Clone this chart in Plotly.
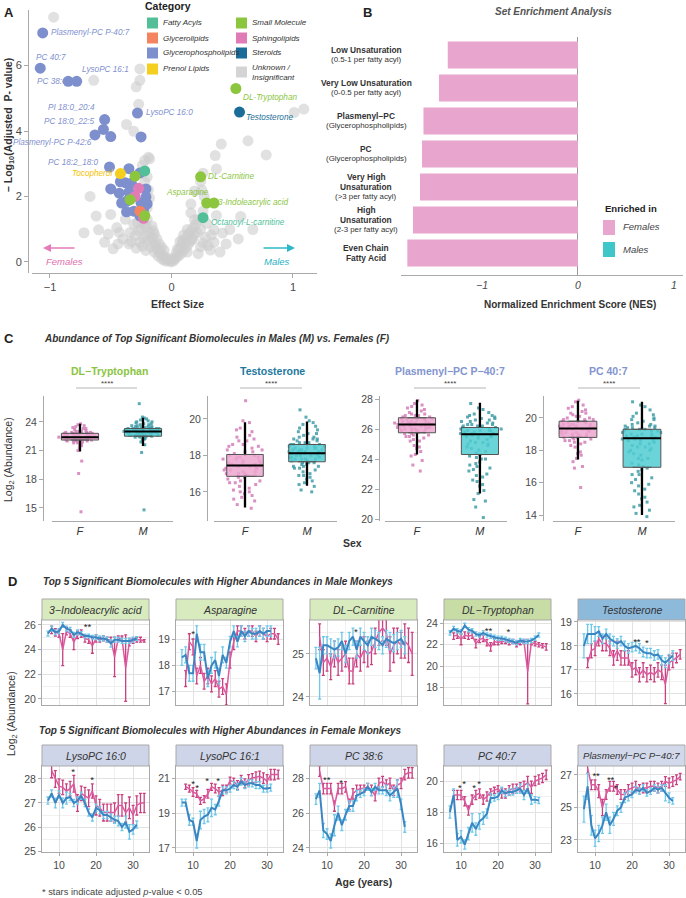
import plotly.graph_objects as go

W, H = 686, 898

# ======================= DATA =======================
# ---- Panel A: volcano (effect size, -log10 adjusted p) ----
a_unknown_pts = [
    (-0.97, 7.48), (-0.64, 5.55), (-0.26, 5.90), (-0.26, 5.55), (-0.29, 5.35), (-0.27, 4.82),
    (-0.37, 4.20), (-0.31, 3.99), (-0.19, 3.20), (-0.18, 3.15), (-0.67, 2.00), (-0.72, 0.89),
    (-0.60, 0.98), (-0.50, 1.45), (-0.43, 0.90), (-0.34, 0.90), (-0.31, 1.15), (-0.30, 0.80),
    (-0.26, 0.60), (-0.22, 3.10), (-0.24, 2.95), (-0.20, 2.60), (-0.22, 2.45), (-0.19, 2.20),
    (-0.18, 1.95), (-0.20, 1.65), (-0.24, 1.25), (-0.22, 1.15), (-0.25, 1.00), (-0.20, 1.05),
    (-0.18, 0.90), (-0.21, 0.80), (-0.16, 0.75), (-0.19, 0.65), (-0.15, 0.60), (-0.13, 0.50),
    (-0.17, 0.45), (-0.12, 0.40), (-0.10, 0.35), (-0.14, 0.30), (-0.09, 0.25), (-0.07, 0.20),
    (-0.11, 0.18), (-0.05, 0.14), (-0.08, 0.10), (-0.03, 0.08), (-0.06, 0.05), (-0.01, 0.03),
    (-0.04, 0.02), (0.00, 0.00), (-0.15, 0.95), (-0.12, 0.70), (-0.10, 0.55), (-0.08, 0.45),
    (-0.06, 0.35), (-0.16, 1.10), (-0.14, 0.85), (-0.20, 1.30), (-0.28, 1.20), (-0.27, 0.95),
    (-0.23, 0.70), (-0.35, 0.55), (-0.40, 0.70), (-0.45, 1.05), (-0.55, 0.60), (-0.48, 0.40),
    (-0.62, 1.40), (-0.38, 1.30), (0.02, 0.04), (0.03, 0.10), (0.05, 0.16), (0.01, 0.12),
    (0.07, 0.22), (0.04, 0.27), (0.09, 0.30), (0.06, 0.38), (0.11, 0.40), (0.08, 0.50),
    (0.13, 0.50), (0.10, 0.60), (0.15, 0.60), (0.12, 0.72), (0.17, 0.70), (0.14, 0.85),
    (0.19, 0.82), (0.16, 0.95), (0.21, 0.90), (0.18, 1.05), (0.13, 0.99), (0.09, 0.67),
    (0.17, 0.67), (0.24, 0.46), (0.32, 0.36), (0.13, 0.30), (0.05, 0.40), (0.20, 1.15),
    (0.22, 1.30), (0.19, 1.29), (0.16, 1.50), (0.16, 1.77), (0.19, 2.17), (0.24, 2.46),
    (0.26, 2.71), (0.37, 2.84), (0.41, 3.60), (0.36, 3.25), (0.63, 3.70), (0.78, 3.27),
    (1.01, 4.57), (1.09, 4.67), (0.29, 1.18), (0.37, 1.42), (0.48, 0.99), (0.57, 1.39),
    (0.67, 0.99), (0.42, 0.88), (0.35, 0.98), (0.24, 1.00), (0.28, 0.75), (0.35, 0.60),
    (0.45, 0.55), (0.55, 0.70), (0.30, 0.50), (0.40, 0.30), (0.22, 0.25), (0.26, 1.55),
    (0.27, 2.00), (0.25, 2.20), (-0.33, 0.62), (-0.29, 0.42), (-0.21, 0.35), (-0.24, 0.48),
    (0.10, 0.82), (0.07, 0.62), (0.26, 0.58), (0.33, 0.82), (-0.44, 0.55), (-0.52, 0.85),
]
a_glycerophospholipids_pts = [
    (-1.06, 7.00), (-1.08, 5.92), (-0.85, 5.52), (-0.78, 5.52), (-0.55, 4.35), (-0.56, 4.05),
    (-0.63, 3.88), (-0.50, 3.83), (-0.28, 4.55), (-0.25, 3.82), (-0.51, 2.90), (-0.26, 2.72),
    (-0.35, 2.85), (-0.42, 2.45), (-0.38, 2.42), (-0.33, 2.40), (-0.50, 2.23), (-0.43, 2.10),
    (-0.35, 2.13), (-0.21, 2.23), (-0.21, 1.98), (-0.41, 1.80), (-0.37, 1.85), (-0.25, 1.80),
    (-0.20, 1.77), (-0.37, 1.53), (-0.31, 1.55), (-0.23, 1.60), (-0.26, 1.41),
]
a_fatty_acyls_pts = [(-0.22, 2.78), (0.26, 1.35)]
a_small_molecule_pts = [(-0.30, 2.62), (-0.34, 1.90), (-0.22, 1.41), (0.53, 5.30), (0.24, 2.60), (0.29, 1.80), (0.35, 1.80)]
a_glycerolipids_pts = [(-0.26, 1.55)]
a_sphingolipids_pts = [(-0.27, 2.25), (-0.30, 2.00), (-0.23, 1.33)]
a_steroids_pts = [(0.56, 4.58)]
a_prenol_pts = [(-0.42, 2.70)]

a_categories = ["Fatty Acyls", "Small Molecule", "Glycerolipids", "Sphingolipids",
                "Glycerophospholipids", "Steroids", "Prenol Lipids", "Unknown /<br>Insignificant"]

# ---- Panel B: set enrichment ----
b_sets = ["Low Unsaturation|(0.5-1 per fatty acyl)",
          "Very Low Unsaturation|(0-0.5 per fatty acyl)",
          "Plasmenyl−PC|(Glycerophospholipids)",
          "PC|(Glycerophospholipids)",
          "Very High;Unsaturation|(&gt;3 per fatty acyl)",
          "High;Unsaturation|(2-3 per fatty acyl)",
          "Even Chain;Fatty Acid|"]
b_nes = [-1.357, -1.448, -1.61, -1.625, -1.646, -1.719, -1.778]

# ---- Panel C: abundance by sex ----
c_names = ["DL−Tryptophan", "Testosterone", "Plasmenyl−PC P−40:7", "PC 40:7"]
c_f_q1 = [22.1, 16.85, 25.75, 18.8]
c_f_med = [22.4, 17.45, 26.3, 19.35]
c_f_q3 = [22.8, 18.05, 26.75, 19.8]
c_f_lo = [20.9, 15.2, 24.3, 17.5]
c_f_hi = [23.8, 19.75, 27.95, 21.0]
c_m_q1 = [22.5, 17.65, 24.3, 16.95]
c_m_med = [23.0, 18.12, 25.65, 18.75]
c_m_q3 = [23.3, 18.6, 26.1, 19.3]
c_m_lo = [21.6, 16.4, 21.7, 14.0]
c_m_hi = [24.3, 19.8, 27.75, 21.0]
c_trp_f = [22.4, 22.1, 22.8, 23.0, 22.5, 21.9, 22.3, 22.7, 23.4, 22.2, 21.7, 22.6, 22.9, 23.2, 22.0, 22.4,
           21.3, 22.8, 23.6, 22.5, 22.1, 22.3, 23.8, 21.0, 22.6, 22.9, 22.2, 22.4, 22.7, 21.8, 23.1, 22.5,
           22.0, 22.3, 19.9, 18.6, 14.6, 22.6, 22.4, 23.3, 21.5, 22.8, 22.1, 22.5, 23.0,
           22.3, 22.6, 22.0, 22.9, 23.3, 22.4, 21.8, 22.7, 22.2, 23.5, 22.5, 22.1, 22.8, 22.4, 21.6, 23.0,
           22.6, 22.3, 22.9, 22.2, 23.7, 22.5, 22.0, 22.8, 22.4]
c_trp_m = [23.0, 22.6, 23.2, 23.5, 22.8, 23.1, 22.4, 23.7, 22.9, 23.3, 22.2, 24.0, 23.0, 22.7, 23.4, 21.6,
           22.9, 23.6, 24.3, 22.5, 23.1, 23.8, 22.8, 23.2, 22.1, 23.0, 24.5, 22.6, 23.3, 22.9, 20.8, 25.9,
           14.8, 23.1, 22.7, 23.5, 24.1, 22.3, 23.0, 23.4, 22.8, 23.9, 21.9, 23.2, 22.6, 23.0, 22.5, 23.3,
           24.2, 22.9, 23.1, 22.8, 23.4, 22.6, 23.0, 23.6, 22.4, 23.2, 22.9, 24.4, 23.3, 22.7, 23.0, 23.5,
           22.2, 23.8, 22.9, 23.1, 22.6, 23.4, 24.0, 22.8, 23.2, 23.0, 22.5, 23.3, 23.7, 22.9, 23.1, 22.7]
c_tst_f = [17.4, 16.8, 18.1, 17.0, 19.5, 16.2, 17.8, 18.3, 15.5, 17.2, 16.9, 18.8, 17.6, 16.5, 19.8, 17.9,
           15.9, 17.3, 18.5, 16.0, 17.7, 19.1, 16.7, 18.0, 17.5, 15.3, 21.0, 17.1, 16.4, 18.6, 17.0, 19.3,
           16.1, 17.8, 15.7, 18.2, 17.4, 16.6, 19.9, 17.6, 15.1, 18.4, 16.9, 17.3, 18.9,
           17.0, 18.2, 16.5, 17.6, 19.0, 17.3, 16.3, 18.6, 17.9, 15.8, 17.5, 18.0, 16.8, 19.4, 17.2, 16.0,
           18.3, 17.7, 16.6, 18.8, 17.1, 15.6, 17.9, 18.5, 16.9]
c_tst_m = [18.1, 17.6, 18.6, 17.9, 18.4, 19.2, 17.2, 18.8, 16.9, 18.0, 19.5, 17.7, 18.3, 16.5, 18.9, 17.4,
           19.8, 18.2, 16.8, 18.5, 17.8, 20.5, 18.1, 17.3, 19.0, 16.1, 18.7, 17.5, 18.3, 19.4, 17.0, 18.0,
           18.6, 16.4, 19.1, 17.9, 18.2, 20.1, 17.6, 18.4, 16.0, 18.9, 17.8, 18.5, 19.6, 17.4, 18.1, 18.7,
           16.7, 18.3, 18.2, 17.8, 18.9, 17.5, 18.4, 19.3, 17.1, 18.6, 18.0, 16.6, 19.7, 17.9, 18.3, 17.4,
           18.8, 16.9, 18.1, 19.0, 17.7, 18.5, 16.3, 18.2, 19.2, 17.6, 18.0, 18.7, 17.3, 18.4, 19.9, 17.8]
c_plm_f = [26.3, 25.8, 26.7, 26.1, 27.0, 25.5, 26.5, 26.9, 25.9, 26.4, 27.4, 25.2, 26.2, 26.6, 24.8, 26.0,
           27.2, 25.7, 26.3, 26.8, 24.3, 27.9, 26.1, 25.6, 26.5, 23.2, 26.4, 27.6, 25.9, 26.2, 24.5, 26.7,
           26.0, 25.4, 27.1, 26.3, 23.6, 26.6, 25.8, 26.9, 26.2, 24.2, 27.5, 26.4, 25.7,
           26.1, 25.6, 26.8, 26.4, 25.3, 27.3, 26.0, 25.9, 26.6, 24.7, 26.2, 27.0, 25.5, 26.5, 26.3, 24.9,
           27.7, 26.0, 25.8, 26.7, 23.9, 26.4, 26.1, 25.2, 26.9]
c_plm_m = [25.7, 24.3, 26.1, 25.2, 26.5, 23.5, 25.9, 26.8, 24.0, 25.5, 22.8, 26.3, 25.0, 26.0, 23.2, 27.0,
           25.8, 24.6, 26.2, 22.2, 25.6, 26.7, 24.9, 23.8, 26.4, 21.7, 25.3, 26.9, 24.4, 27.4, 22.5, 25.9,
           26.0, 23.0, 25.7, 24.1, 26.6, 20.8, 25.1, 27.7, 23.6, 26.2, 21.3, 25.5, 24.7, 26.8, 22.9, 25.9,
           20.1, 26.3, 25.8, 24.8, 26.4, 23.3, 25.9, 26.6, 22.6, 25.4, 26.1, 24.2, 26.9, 23.7, 25.6, 26.3,
           21.9, 25.0, 26.7, 24.5, 27.1, 22.3, 25.7, 26.0, 23.4, 26.5, 24.0, 25.5, 27.3, 21.2, 26.2, 25.1]
c_pc_f = [19.4, 18.9, 19.8, 19.1, 20.3, 18.5, 19.6, 20.0, 18.8, 19.3, 20.7, 17.9, 19.5, 19.9, 18.3, 19.2,
          21.0, 18.7, 19.4, 20.2, 17.5, 19.7, 19.0, 18.6, 20.5, 17.0, 19.3, 19.8, 15.7, 19.5, 18.9, 20.1,
          19.2, 17.8, 19.6, 21.1, 18.4, 19.3, 19.9, 16.9, 19.1, 18.8, 20.4, 19.5, 19.0,
          19.5, 19.0, 20.0, 18.7, 19.6, 20.6, 18.9, 19.3, 17.7, 19.8, 19.2, 20.3, 18.5, 19.7, 19.1, 17.3,
          20.1, 19.4, 18.6, 20.8, 19.0, 18.2, 19.6, 19.9, 18.8]
c_pc_m = [18.8, 17.0, 19.3, 18.2, 19.8, 16.2, 19.0, 20.2, 15.5, 18.5, 19.5, 17.4, 18.9, 14.8, 19.2, 20.8,
          16.8, 18.6, 19.6, 15.0, 18.0, 19.4, 17.7, 21.0, 18.9, 14.3, 19.1, 16.5, 19.7, 18.4, 20.3, 15.8,
          18.7, 19.3, 17.1, 13.9, 19.0, 18.3, 16.0, 19.9, 18.1, 14.6, 19.5, 17.5, 18.8, 20.0, 15.3, 19.2,
          16.7, 18.6, 19.0, 17.8, 19.4, 15.9, 18.6, 19.9, 17.2, 14.5, 19.2, 18.4, 20.5, 16.3, 19.5, 18.0,
          15.6, 19.1, 17.5, 20.7, 18.9, 14.1, 19.3, 16.9, 18.7, 20.1, 15.1, 19.6, 17.9, 18.2, 16.5, 19.4]

# ---- Panel D: abundance over age ----
age_f = [8, 9, 10, 11, 12, 13, 14, 15, 16, 17, 18, 19, 20, 21, 22, 23, 24, 25, 26, 27, 28, 29, 30, 31, 32, 33]
age_m = [7, 8, 9, 10, 11, 12, 13, 14, 15, 16, 17, 18, 19, 20, 21, 22, 23, 24, 25, 26, 27, 28, 29, 30, 31]

ind_f = [25.6, 25.4, 25.3, 24.0, 25.5, 25.3, 24.6, 25.2, 25.3, 24.9, 24.8, 24.3, 24.9, 24.8, 24.9, 24.8, 24.8, 23.4, 24.9, 24.9, 22.5, 24.6, 24.7, 24.8, 24.8, 24.7]
ind_f_err = [0.3, 0.3, 0.3, 1.3, 0.3, 0.3, 0.6, 0.3, 0.3, 0.3, 0.3, 0.6, 0.3, 0.2, 0.2, 0.2, 0.2, 1.6, 0.2, 0.2, 2.7, 0.3, 0.2, 0.2, 0.2, 0.1]
ind_m = [25.3, 25.7, 25.4, 25.5, 26.0, 25.7, 25.6, 25.2, 25.4, 25.3, 25.1, 25.1, 25.0, 25.0, 24.9, 24.9, 24.8, 24.5, 24.8, 24.8, 24.7, 24.7, 24.7, 24.8, 24.9]
ind_m_err = [0.2, 0.2, 0.2, 0.2, 0.2, 0.2, 0.2, 0.2, 0.2, 0.15, 0.15, 0.15, 0.15, 0.2, 0.2, 0.2, 0.2, 0.3, 0.2, 0.2, 0.2, 0.2, 0.2, 0.2, 0.15]

asn_f = [17.5, 18.9, 18.7, 17.6, 18.0, 17.4, 17.6, 17.3, 17.5, 17.1, 17.2, 16.9, 18.2, 18.9, 19.3, 19.3, 19.2, 19.3, 19.3, 19.1, 19.3, 19.2, 19.1, 19.2, 19.2, 19.0]
asn_f_err = [0.3, 0.3, 0.3, 0.3, 0.3, 0.3, 0.3, 0.3, 0.3, 0.3, 0.3, 0.4, 0.3, 0.3, 0.2, 0.2, 0.2, 0.2, 0.2, 0.2, 0.2, 0.2, 0.2, 0.2, 0.2, 0.2]
asn_m = [18.3, 18.4, 17.7, 17.7, 19.2, 18.5, 18.5, 17.5, 18.0, 18.2, 17.6, 18.4, 18.1, 18.9, 19.3, 18.9, 19.3, 19.1, 19.3, 19.2, 19.2, 19.3, 19.2, 19.3, 19.3]
asn_m_err = [0.3, 0.3, 0.3, 0.3, 0.3, 0.3, 0.3, 0.3, 0.3, 0.3, 0.3, 0.3, 0.2, 0.2, 0.2, 0.2, 0.2, 0.2, 0.2, 0.2, 0.2, 0.2, 0.2, 0.2, 0.2]

car_f = [25.4, 24.8, 24.9, 24.7, 25.0, 24.8, 24.9, 25.0, 24.6, 24.6, 25.0, 24.9, 25.1, 25.0, 25.05, 25.3, 25.5, 25.6, 25.5, 25.0, 25.2, 25.3, 25.2, 25.3, 25.2, 25.0]
car_f_err = [0.3, 0.3, 0.3, 0.3, 0.3, 0.3, 0.3, 0.3, 0.3, 0.3, 0.3, 0.3, 0.3, 0.3, 0.3, 0.3, 0.3, 0.3, 0.3, 0.4, 0.4, 0.3, 0.3, 0.4, 0.4, 0.5]
car_m = [24.9, 24.55, 25.2, 25.2, 25.15, 25.1, 25.15, 25.3, 25.0, 25.3, 25.4, 25.1, 25.4, 25.3, 25.2, 25.4, 25.35, 25.3, 25.2, 25.35, 25.3, 25.25, 25.3, 25.35, 25.2]
car_m_err = [0.25, 0.6, 0.2, 0.2, 0.2, 0.2, 0.2, 0.2, 0.2, 0.2, 0.2, 0.2, 0.2, 0.2, 0.2, 0.2, 0.2, 0.2, 0.2, 0.2, 0.2, 0.2, 0.2, 0.2, 0.2]

trp_f = [22.8, 22.9, 22.5, 22.9, 22.8, 22.9, 22.1, 22.5, 22.6, 22.2, 21.8, 22.3, 22.2, 22.3, 22.3, 22.2, 22.3, 22.0, 22.2, 22.3, 19.5, 22.2, 22.1, 22.0, 21.9, 21.8]
trp_f_err = [0.3, 0.3, 0.5, 0.3, 0.3, 0.3, 0.4, 0.3, 0.3, 0.3, 0.4, 0.3, 0.2, 0.2, 0.2, 0.2, 0.2, 0.2, 0.2, 0.2, 3.0, 0.2, 0.2, 0.2, 0.2, 0.3]
trp_m = [23.1, 23.5, 23.3, 23.2, 23.8, 23.4, 23.3, 23.0, 22.9, 23.1, 22.9, 22.8, 22.7, 22.6, 22.6, 22.5, 22.4, 22.3, 22.2, 22.4, 22.3, 22.3, 22.4, 22.6, 22.9]
trp_m_err = [0.2, 0.2, 0.2, 0.2, 0.2, 0.2, 0.2, 0.2, 0.2, 0.2, 0.2, 0.2, 0.2, 0.2, 0.2, 0.2, 0.2, 0.2, 0.2, 0.2, 0.2, 0.2, 0.2, 0.2, 0.2]

tst_f = [17.3, 17.8, 17.9, 18.3, 18.1, 18.1, 17.9, 17.5, 17.8, 17.5, 17.5, 17.5, 17.0, 17.1, 16.8, 17.0, 16.8, 16.9, 16.8, 17.0, 16.9, 16.4, 17.3, 17.4, 17.5, 17.65]
tst_f_err = [0.2, 0.3, 0.3, 0.3, 0.3, 0.3, 0.3, 0.3, 0.4, 0.3, 0.3, 0.3, 0.3, 0.3, 0.3, 0.3, 0.3, 0.3, 0.3, 0.3, 0.3, 0.8, 0.3, 0.3, 0.2, 0.2]
tst_m = [18.0, 18.5, 18.5, 18.5, 18.6, 18.3, 18.5, 18.3, 18.2, 18.1, 18.2, 18.0, 17.9, 17.95, 18.0, 17.9, 17.75, 17.7, 17.7, 17.6, 17.65, 17.4, 17.3, 17.45, 17.6]
tst_m_err = [0.5, 0.4, 0.4, 0.3, 0.2, 0.2, 0.2, 0.2, 0.2, 0.2, 0.2, 0.2, 0.2, 0.2, 0.2, 0.2, 0.2, 0.2, 0.2, 0.2, 0.2, 0.2, 0.2, 0.2, 0.2]

lpc160_f = [28.35, 28.0, 27.7, 27.65, 27.5, 27.6, 27.8, 27.0, 27.4, 27.3, 27.2, 27.5, 26.9, 26.8, 26.6, 26.6, 26.6, 26.6, 26.9, 26.9, 26.6, 26.8, 26.5, 26.9, 27.0, 27.0]
lpc160_f_err = [0.3, 0.35, 0.3, 0.3, 0.3, 0.3, 0.35, 0.35, 0.3, 0.35, 0.35, 0.3, 0.4, 0.35, 0.35, 0.35, 0.35, 0.4, 0.45, 0.45, 0.4, 0.45, 0.4, 0.4, 0.4, 0.4]
lpc160_m = [27.1, 27.4, 27.0, 27.35, 27.0, 27.2, 27.25, 27.0, 27.1, 27.3, 27.0, 26.6, 26.4, 26.8, 26.7, 26.5, 26.5, 26.4, 26.3, 26.25, 26.0, 26.2, 25.8, 25.9, 26.1]
lpc160_m_err = [0.15, 0.15, 0.2, 0.15, 0.2, 0.25, 0.15, 0.15, 0.15, 0.15, 0.15, 0.15, 0.15, 0.15, 0.15, 0.15, 0.15, 0.15, 0.15, 0.2, 0.15, 0.25, 0.3, 0.2, 0.15]

lpc161_f = [20.5, 20.4, 20.2, 20.1, 19.7, 19.8, 20.1, 20.5, 20.4, 20.2, 20.3, 20.4, 20.85, 20.8, 20.6, 20.9, 20.7, 20.9, 21.0, 21.05, 21.1, 21.0, 20.8, 21.2, 21.2, 21.2]
lpc161_f_err = [0.15, 0.2, 0.25, 0.2, 0.2, 0.2, 0.25, 0.2, 0.25, 0.25, 0.3, 0.2, 0.2, 0.2, 0.25, 0.25, 0.25, 0.3, 0.25, 0.3, 0.3, 0.3, 0.4, 0.3, 0.3, 0.25]
lpc161_m = [19.6, 19.6, 18.6, 18.5, 17.4, 18.6, 18.8, 18.9, 19.3, 19.2, 19.7, 20.3, 20.3, 20.4, 20.6, 20.5, 20.8, 20.6, 20.7, 20.7, 20.6, 20.6, 20.4, 20.4, 20.45]
lpc161_m_err = [0.2, 0.2, 0.3, 0.2, 0.4, 0.5, 0.4, 0.4, 0.5, 0.3, 0.3, 0.2, 0.2, 0.2, 0.2, 0.2, 0.2, 0.2, 0.2, 0.2, 0.2, 0.2, 0.2, 0.2, 0.2]

pc386_f = [28.4, 27.4, 27.4, 27.4, 26.4, 27.4, 27.4, 27.5, 26.5, 27.1, 27.3, 27.4, 27.4, 27.5, 27.3, 27.0, 27.7, 27.8, 27.6, 27.7, 27.3, 27.6, 27.7, 28.2, 28.3, 28.3]
pc386_f_err = [0.3, 0.3, 0.3, 0.3, 0.3, 0.3, 0.3, 0.3, 0.3, 0.3, 0.3, 0.2, 0.2, 0.2, 0.3, 0.3, 0.3, 0.3, 0.3, 0.3, 0.3, 0.3, 0.3, 0.3, 0.3, 0.3]
pc386_m = [26.8, 27.3, 25.0, 24.8, 24.4, 25.3, 26.0, 25.3, 25.9, 26.4, 26.4, 27.0, 27.1, 27.2, 27.5, 27.2, 27.5, 27.3, 27.3, 27.3, 27.0, 27.2, 27.4, 26.5, 25.2]
pc386_m_err = [0.3, 0.4, 0.4, 0.3, 0.4, 0.6, 0.4, 0.3, 0.3, 0.3, 0.3, 0.3, 0.2, 0.2, 0.2, 0.2, 0.2, 0.2, 0.2, 0.3, 0.3, 0.3, 0.5, 0.3, 0.3]

pc407_f = [19.1, 19.1, 19.1, 18.7, 18.1, 18.8, 19.1, 19.2, 18.8, 19.0, 19.3, 19.4, 19.5, 19.2, 19.2, 19.4, 19.5, 19.5, 19.6, 19.7, 19.9, 19.6, 20.0, 20.1, 20.2, 20.4]
pc407_f_err = [0.3, 0.3, 0.3, 0.3, 0.3, 0.3, 0.3, 0.3, 0.3, 0.3, 0.2, 0.2, 0.2, 0.3, 0.3, 0.3, 0.3, 0.3, 0.3, 0.3, 0.4, 0.4, 0.3, 0.3, 0.3, 0.3]
pc407_m = [18.0, 19.1, 16.2, 16.4, 15.9, 16.6, 17.3, 16.9, 17.4, 17.6, 17.9, 18.9, 18.9, 19.0, 19.4, 19.2, 19.3, 19.3, 19.4, 19.5, 19.1, 19.5, 18.8, 18.8, 18.75]
pc407_m_err = [0.4, 0.4, 0.4, 0.4, 0.3, 0.4, 0.6, 0.4, 0.5, 0.4, 0.3, 0.3, 0.2, 0.2, 0.2, 0.2, 0.2, 0.2, 0.2, 0.3, 0.3, 0.3, 0.3, 0.2, 0.2]

plm_f = [27.4, 26.4, 26.4, 26.0, 25.0, 25.8, 26.3, 26.3, 26.1, 25.8, 25.8, 26.1, 26.2, 26.3, 26.1, 26.2, 26.2, 26.3, 26.3, 26.2, 26.3, 26.6, 26.5, 26.6, 26.7, 26.9]
plm_f_err = [0.3, 0.3, 0.3, 0.4, 0.5, 0.3, 0.3, 0.3, 0.3, 0.3, 0.3, 0.3, 0.3, 0.3, 0.3, 0.3, 0.3, 0.3, 0.3, 0.3, 0.3, 0.3, 0.3, 0.3, 0.3, 0.2]
plm_m = [24.9, 26.3, 23.9, 23.1, 23.4, 23.9, 24.7, 23.9, 24.3, 24.8, 25.0, 25.6, 25.7, 25.8, 26.1, 26.0, 26.2, 25.9, 26.0, 26.2, 26.1, 26.2, 25.9, 25.6, 25.4]
plm_m_err = [0.8, 0.8, 0.6, 0.5, 0.5, 0.5, 0.5, 0.5, 0.4, 0.3, 0.3, 0.3, 0.3, 0.2, 0.2, 0.2, 0.2, 0.2, 0.2, 0.2, 0.2, 0.2, 0.5, 0.3, 0.2]

# significance stars (age, value, label)
ind_stars = [(17.7, 25.75, "**")]
asn_stars = [(10.0, 19.15, "*")]
car_stars = [(17.8, 25.5, "*")]
trp_stars = [(17.4, 23.25, "**"), (22.8, 23.1, "*")]
tst_stars = [(21.3, 18.15, "**"), (24.0, 18.1, "*")]
lpc160_stars = [(13.8, 28.25, "*"), (18.9, 27.95, "*")]
lpc161_stars = [(10.0, 20.6, "*"), (11.1, 20.4, "*"), (13.8, 20.8, "*"), (16.8, 20.8, "*")]
pc386_stars = [(9.9, 27.85, "**"), (13.8, 27.7, "*")]
pc407_stars = [(9.7, 19.5, "*"), (10.8, 19.75, "*"), (13.5, 19.5, "*"), (14.9, 19.8, "*")]
plm_stars = [(10.3, 26.9, "**"), (14.2, 26.65, "**"), (15.6, 26.15, "*")]

# ======================= STYLE / HELPERS =======================
FONT = "Liberation Sans, Arial, sans-serif"
TXT = "#3a3a3a"
TICKC = "#4a4a4a"
AXL = "#a9a9a9"


def PX(x):
    return x / W


def PY(y):
    return 1 - y / H


def aid(i):
    s = "" if i == 1 else str(i)
    return "x" + s, "y" + s


fig = go.Figure()
ann = []
shapes = []
axes = {}


def T(x, y, text, size=10.5, color=TXT, bold=False, italic=False, xa="center", ya="middle",
      angle=0, xref="paper", yref="paper", align="center"):
    if italic:
        text = "<i>" + text + "</i>"
    if bold:
        text = "<b>" + text + "</b>"
    ann.append(dict(x=PX(x) if xref == "paper" else x, y=PY(y) if yref == "paper" else y,
                    xref=xref, yref=yref, text=text, showarrow=False, align=align,
                    font=dict(family=FONT, size=size, color=color),
                    xanchor=xa, yanchor=ya, textangle=angle))


def rect(x0, y0, x1, y1, fill, line=None, lw=0):
    shapes.append(dict(type="rect", xref="paper", yref="paper", x0=PX(x0), x1=PX(x1),
                       y0=PY(y1), y1=PY(y0), fillcolor=fill,
                       line=dict(color=line if line else fill, width=lw), layer="above"))


def set_axes(i, xdom, ydom, xopts, yopts):
    xs, ys = aid(i)
    s = xs[1:]
    xd = dict(domain=[PX(xdom[0]), PX(xdom[1])], anchor=ys)
    xd.update(xopts)
    yd = dict(domain=[PY(ydom[1]), PY(ydom[0])], anchor=xs)
    yd.update(yopts)
    axes["xaxis" + s] = xd
    axes["yaxis" + s] = yd


tickf = dict(family=FONT, size=10.5, color=TICKC)

# ======================= PANEL A =======================
cat_colors = {"fa": "#52BF98", "sm": "#8CC63F", "gl": "#F4845F", "sp": "#E07BB6",
              "gp": "#7E8FCD", "st": "#1A6D98", "pr": "#F5CF1E", "un": "#D4D4D4"}
xs, ys = aid(1)
fig.add_trace(go.Scatter(x=[p[0] for p in a_unknown_pts], y=[p[1] for p in a_unknown_pts], mode="markers",
                         marker=dict(size=11, color="rgba(205,205,205,0.6)", line=dict(width=0)),
                         xaxis=xs, yaxis=ys, hoverinfo="skip"))
for pts, key in [(a_glycerophospholipids_pts, "gp"), (a_prenol_pts, "pr"), (a_sphingolipids_pts, "sp"),
                 (a_glycerolipids_pts, "gl"), (a_small_molecule_pts, "sm"), (a_fatty_acyls_pts, "fa"),
                 (a_steroids_pts, "st")]:
    fig.add_trace(go.Scatter(x=[p[0] for p in pts], y=[p[1] for p in pts], mode="markers",
                             marker=dict(size=11, color=cat_colors[key], line=dict(width=0)),
                             xaxis=xs, yaxis=ys, hoverinfo="skip"))

set_axes(1, (32, 317), (10, 273),
         dict(range=[-1.148, 1.198], tickvals=[-1, 0, 1], ticktext=["−1", "0", "1"], showline=True,
              linecolor=AXL, ticks="outside", ticklen=4, tickcolor=AXL, showgrid=False, zeroline=False,
              tickfont=dict(family=FONT, size=11, color=TICKC)),
         dict(range=[-0.34, 7.7], tickvals=[0, 2, 4, 6], showline=True, linecolor=AXL, ticks="outside",
              ticklen=4, tickcolor=AXL, showgrid=False, zeroline=False,
              tickfont=dict(family=FONT, size=11, color=TICKC), anchor="free", position=PX(28)))

BLUE_L = "#7F91D0"
GREEN_L = "#8CC63F"
a_labels = [
    ("Plasmenyl-PC P-40:7", -1.004, 7.0, BLUE_L, "left"),
    ("PC 40:7", -0.988, 6.24, BLUE_L, "center"),
    ("LysoPC 16:1", -0.757, 5.87, BLUE_L, "left"),
    ("PC 38:6", -0.983, 5.5, BLUE_L, "center"),
    ("PI 18:0_20:4", -0.609, 4.71, BLUE_L, "right"),
    ("PC 18:0_22:5", -0.617, 4.28, BLUE_L, "right"),
    ("Plasmenyl-PC P-42:6", -0.634, 3.64, BLUE_L, "right"),
    ("PC 18:2_18:0", -0.584, 3.03, BLUE_L, "right"),
    ("Tocopherol", -0.477, 2.69, "#F2C200", "right"),
    ("LysoPC 16:0", -0.222, 4.56, BLUE_L, "left"),
    ("DL-Tryptophan", 0.576, 5.02, GREEN_L, "left"),
    ("Testosterone", 0.593, 4.40, "#1B6E97", "left"),
    ("DL-Carnitine", 0.288, 2.60, GREEN_L, "left"),
    ("Asparagine", 0.329, 2.11, GREEN_L, "right"),
    ("3-Indoleacrylic acid", 0.370, 1.83, GREEN_L, "left"),
    ("Octanoyl-L-carnitine", 0.305, 1.19, "#4FBF9A", "left"),
]
for txt, lx, ly, col, anc in a_labels:
    T(lx, ly, txt, 8.2, col, italic=True, xa=anc, xref=xs, yref=ys)

# legend (Category)
T(168, 6, "Category", 10.5, "#222", bold=True)
leg_rows = [(23, 0), (38, 2), (53, 4), (69, 6)]
leg_keys = ["fa", "sm", "gl", "sp", "gp", "st", "pr", "un"]
for ry, k in leg_rows:
    for col, (sx, tx) in enumerate([(147, 161), (236, 250)]):
        idx = k + col
        cy = ry if idx != 7 else 72
        rect(sx, cy - 5.5, sx + 11, cy + 5.5, cat_colors[leg_keys[idx]])
        T(tx, cy, a_categories[idx], 8, "#333", italic=True, xa="left", align="left")

# arrows
ann.append(dict(x=PX(43), y=PY(248), xref="paper", yref="paper", ax=33, ay=0, text="",
                showarrow=True, arrowhead=2, arrowsize=1, arrowwidth=1.6, arrowcolor="#E57BB9"))
ann.append(dict(x=PX(295), y=PY(248), xref="paper", yref="paper", ax=-33, ay=0, text="",
                showarrow=True, arrowhead=2, arrowsize=1, arrowwidth=1.6, arrowcolor="#2CB8C6"))
T(64, 262, "Females", 9.5, "#E070B0", italic=True)
T(277, 262, "Males", 9.5, "#27B3C4", italic=True)
T(177, 304, "Effect Size", 10.5, "#333", bold=True)
T(9, 125, "– Log<sub>10</sub>(Adjusted  P- value)", 10.5, "#333", bold=True, angle=-90)
T(9, 13, "A", 13, "#222", bold=True)

# ======================= PANEL B =======================
xs, ys = aid(2)
b_keys = [s for s in b_sets]
fig.add_trace(go.Bar(x=b_nes, y=b_keys, orientation="h", marker=dict(color="#E8A6CE", line=dict(width=0)),
                     xaxis=xs, yaxis=ys, hoverinfo="skip"))
set_axes(2, (401, 683), (37, 275),
         dict(range=[-1.844, 1.094], tickvals=[-1, 0, 1], ticktext=["<i>−1</i>", "<i>0</i>", "<i>1</i>"],
              showline=True, linecolor=AXL, ticks="", showgrid=False, zeroline=True,
              zerolinecolor="#9a9a9a", zerolinewidth=1, tickfont=tickf),
         dict(type="category", categoryarray=list(reversed(b_keys)), range=[-0.667, 6.545],
              showticklabels=False, showline=False, showgrid=False, zeroline=False, ticks=""))
for key in b_keys:
    bold_part, reg = key.split("|")
    lines = [("b", t) for t in bold_part.split(";")] + ([("r", reg)] if reg else [])
    n = len(lines)
    for j, (kind, t) in enumerate(lines):
        off = (j - (n - 1) / 2) * 10
        ann.append(dict(x=PX(366), y=key, xref="paper", yref=ys, yshift=-off, showarrow=False,
                        text=("<b>" + t + "</b>") if kind == "b" else t,
                        font=dict(family=FONT, size=8.4 if kind == "b" else 7.9, color="#333"),
                        xanchor="center", yanchor="middle"))
T(553, 11, "Set Enrichment Analysis", 10, "#555", bold=True, italic=True)
T(570, 304, "Normalized Enrichment Score (NES)", 10, "#333", bold=True)
T(367, 13, "B", 13, "#222", bold=True)
T(603, 208, "Enriched in", 9.5, "#222", bold=True, xa="left")
rect(603, 220, 615, 235, "#E8A6CE")
rect(603, 242, 615, 257, "#3EC6C8")
T(621, 227, "Females", 9.5, "#444", italic=True, xa="left")
T(621, 250, "Males", 9.5, "#444", italic=True, xa="left")

# ======================= PANEL C =======================
c_points = [(c_trp_f, c_trp_m), (c_tst_f, c_tst_m), (c_plm_f, c_plm_m), (c_pc_f, c_pc_m)]
c_geo = [  # x-domain, y-axis line x, x-range, y-range, dtick, tick0
    ((52, 173), 43, [-0.444, 1.476], [13.64, 26.7], 3, 15),
    ((214, 337), 207, [-0.5, 1.484], [14.4, 21.26], 2, 16),
    ((385, 507), 379, [-0.508, 1.43], [19.87, 28.2], 2, 20),
    ((553, 675), 543, [-0.39, 1.516], [13.63, 21.36], 2, 14),
]
c_title_colors = ["#8AC43F", "#1C789E", "#8395D0", "#8395D0"]
c_title_x = [109, 272, 450, 608]
c_sig = [(76, 137), (240, 302), (414, 486), (578, 640)]

F_BOX = "rgba(236,166,207,0.85)"
M_BOX = "rgba(80,205,210,0.85)"
F_PT = "#D47DB8"
M_PT = "#3F9CA8"


def box_group(xs, ys, cat, vals, q1, med, q3, lo, hi, fill, ptc):
    fig.add_trace(go.Box(x=[cat] * len(vals), y=vals, boxpoints="all", jitter=1, pointpos=0, width=0.72,
                         fillcolor="rgba(0,0,0,0)", line=dict(color="rgba(0,0,0,0)", width=0),
                         marker=dict(color=ptc, size=3, symbol="square", opacity=0.85),
                         xaxis=xs, yaxis=ys, hoverinfo="skip"))
    for a, b in [(lo, q1), (q3, hi)]:
        fig.add_trace(go.Box(x=[cat], q1=[a], median=[a], q3=[b], lowerfence=[a], upperfence=[b],
                             width=0.0001, boxpoints=False, fillcolor="rgba(0,0,0,0)",
                             line=dict(color="black", width=2.3), xaxis=xs, yaxis=ys, hoverinfo="skip"))
    fig.add_trace(go.Box(x=[cat], q1=[q1], median=[med], q3=[q3], lowerfence=[q1], upperfence=[q3],
                         width=0.59, boxpoints=False, fillcolor=fill, line=dict(color="#555", width=1),
                         xaxis=xs, yaxis=ys, hoverinfo="skip"))
    fig.add_trace(go.Box(x=[cat], q1=[med], median=[med], q3=[med], lowerfence=[med], upperfence=[med],
                         width=0.59, boxpoints=False, fillcolor="rgba(0,0,0,0)",
                         line=dict(color="black", width=2), xaxis=xs, yaxis=ys, hoverinfo="skip"))


for k in range(4):
    i = 3 + k
    xs, ys = aid(i)
    fvals, mvals = c_points[k]
    box_group(xs, ys, "F", fvals, c_f_q1[k], c_f_med[k], c_f_q3[k], c_f_lo[k], c_f_hi[k], F_BOX, F_PT)
    box_group(xs, ys, "M", mvals, c_m_q1[k], c_m_med[k], c_m_q3[k], c_m_lo[k], c_m_hi[k], M_BOX, M_PT)
    xdom, yl, xr, yr, dt, t0 = c_geo[k]
    set_axes(i, xdom, (396, 521),
             dict(type="category", categoryarray=["F", "M"], range=xr, tickvals=["F", "M"],
                  ticktext=["<i>F</i>", "<i>M</i>"], showline=True, linecolor=AXL, ticks="",
                  showgrid=False, zeroline=False, tickfont=dict(family=FONT, size=11, color="#333")),
             dict(range=yr, dtick=dt, tick0=t0, showline=True, linecolor=AXL, ticks="outside", ticklen=4,
                  tickcolor=AXL, showgrid=False, zeroline=False, tickfont=tickf,
                  anchor="free", position=PX(yl)))
    T(c_title_x[k], 371, c_names[k], 10.5, c_title_colors[k], bold=True)
    shapes.append(dict(type="line", xref="paper", yref="paper", x0=PX(c_sig[k][0]), x1=PX(c_sig[k][1]),
                       y0=PY(388), y1=PY(388), line=dict(color="#b5b5b5", width=1)))
    T((c_sig[k][0] + c_sig[k][1]) / 2, 383, "****", 8, "#444")

T(9, 338, "C", 13, "#222", bold=True)
T(42, 338, "Abundance of Top Significant Biomolecules in Males (M) vs. Females (F)", 10, "#333",
  bold=True, italic=True, xa="left")
T(9, 460, "Log<sub>2</sub> (Abundance)", 10.5, "#333", angle=-90)
T(352, 543, "Sex", 10.5, "#333", bold=True)

# ======================= PANEL D =======================
d_panels = [
    ("3−Indoleacrylic acid", "#D8EBBF", ind_f, ind_f_err, ind_m, ind_m_err, [19.5, 26.4], 2, 0, ind_stars, 10.5),
    ("Asparagine", "#D8EBBF", asn_f, asn_f_err, asn_m, asn_m_err, [16.5, 19.72], 1, 0, asn_stars, 10.5),
    ("DL−Carnitine", "#D8EBBF", car_f, car_f_err, car_m, car_m_err, [23.81, 25.79], 1, 0, car_stars, 10.5),
    ("DL−Tryptophan", "#C8DDA6", trp_f, trp_f_err, trp_m, trp_m_err, [16.4, 24.3], 2, 0, trp_stars, 10.5),
    ("Testosterone", "#8DB9DB", tst_f, tst_f_err, tst_m, tst_m_err, [15.54, 19.08], 1, 0, tst_stars, 10.5),
    ("LysoPC 16:0", "#CED5E8", lpc160_f, lpc160_f_err, lpc160_m, lpc160_m_err, [24.96, 28.54], 1, 0, lpc160_stars, 10.5),
    ("LysoPC 16:1", "#CED5E8", lpc161_f, lpc161_f_err, lpc161_m, lpc161_m_err, [16.77, 21.69], 2, 1, lpc161_stars, 10.5),
    ("PC 38:6", "#CED5E8", pc386_f, pc386_f_err, pc386_m, pc386_m_err, [23.77, 28.69], 2, 0, pc386_stars, 10.5),
    ("PC 40:7", "#CED5E8", pc407_f, pc407_f_err, pc407_m, pc407_m_err, [15.42, 20.97], 2, 0, pc407_stars, 10.5),
    ("Plasmenyl−PC P−40:7", "#D2D9EB", plm_f, plm_f_err, plm_m, plm_m_err, [22.26, 27.55], 2, 1, plm_stars, 9.6),
]
d_xdoms = [(42, 149), (176, 283), (310, 417), (444, 551), (578, 685)]


def add_series(xs, ys, ages, vals, errs, color, ecolor, lw):
    n = min(len(ages), len(vals), len(errs))
    fig.add_trace(go.Scatter(x=ages[:n], y=vals[:n], mode="lines", line=dict(color=color, width=lw),
                             error_y=dict(type="data", array=errs[:n], color=ecolor, thickness=1.3, width=1.5),
                             xaxis=xs, yaxis=ys, hoverinfo="skip"))


for k, (name, scol, fv, fe, mv, me, yr, dt, t0, stars, fs) in enumerate(d_panels):
    i = 7 + k
    xs, ys = aid(i)
    row = k // 5
    xdom = d_xdoms[k % 5]
    ydom = (620, 705) if row == 0 else (766, 852)
    strip = (599, 620) if row == 0 else (745, 766)
    add_series(xs, ys, age_f, fv, fe, "#DB5A9F", "#C8407F", 1.5)
    add_series(xs, ys, age_m, mv, me, "#3A86C2", "#6EC8EA", 2)
    fig.add_trace(go.Scatter(x=[s[0] for s in stars], y=[s[1] for s in stars], mode="text",
                             text=[s[2] for s in stars], textfont=dict(family=FONT, size=9.5, color="#222"),
                             xaxis=xs, yaxis=ys, hoverinfo="skip"))
    set_axes(i, xdom, ydom,
             dict(range=[5.4, 34.3], tick0=0, dtick=10, showticklabels=(row == 1), showline=True, mirror=True,
                  linecolor=AXL, showgrid=True, gridcolor="#E2E2E2", zeroline=False,
                  ticks="outside" if row == 1 else "", ticklen=3, tickcolor=AXL, tickfont=tickf,
                  minor=dict(tick0=0, dtick=5, showgrid=True, gridcolor="#F0F0F0", ticks="")),
             dict(range=yr, tick0=t0, dtick=dt, showline=True, mirror=True, linecolor=AXL, showgrid=True,
                  gridcolor="#E2E2E2", zeroline=False, ticks="outside", ticklen=3, tickcolor=AXL,
                  tickfont=tickf, minor=dict(tick0=t0, dtick=dt / 2, showgrid=True, gridcolor="#F0F0F0",
                                             ticks="")))
    rect(xdom[0], strip[0], xdom[1], strip[1], scol, AXL, 1)
    T((xdom[0] + xdom[1]) / 2, (strip[0] + strip[1]) / 2, name, fs, "#333", italic=True)

T(12, 581, "D", 13, "#222", bold=True)
T(41, 581, "Top 5 Significant Biomolecules with Higher Abundances in Male Monkeys", 10, "#333",
  bold=True, italic=True, xa="left")
T(37, 730, "Top 5 Significant Biomolecules with Higher Abundances in Female Monkeys", 10, "#333",
  bold=True, italic=True, xa="left")
T(12, 714, "Log<sub>2</sub> (Abundance)", 10.5, "#333", angle=-90)
T(363, 882, "Age (years)", 10.5, "#333", bold=True)
T(40, 892, "* stars indicate adjusted <i>p</i>-value &lt; 0.05", 9.3, "#444", xa="left")

fig.update_layout(
    width=W, height=H, margin=dict(l=0, r=0, t=0, b=0), template="none",
    paper_bgcolor="white", plot_bgcolor="white", showlegend=False, bargap=0.18,
    boxmode="overlay", font=dict(family=FONT, color=TXT),
    annotations=ann, shapes=shapes, **axes,
)
fig.write_html("out.html")
